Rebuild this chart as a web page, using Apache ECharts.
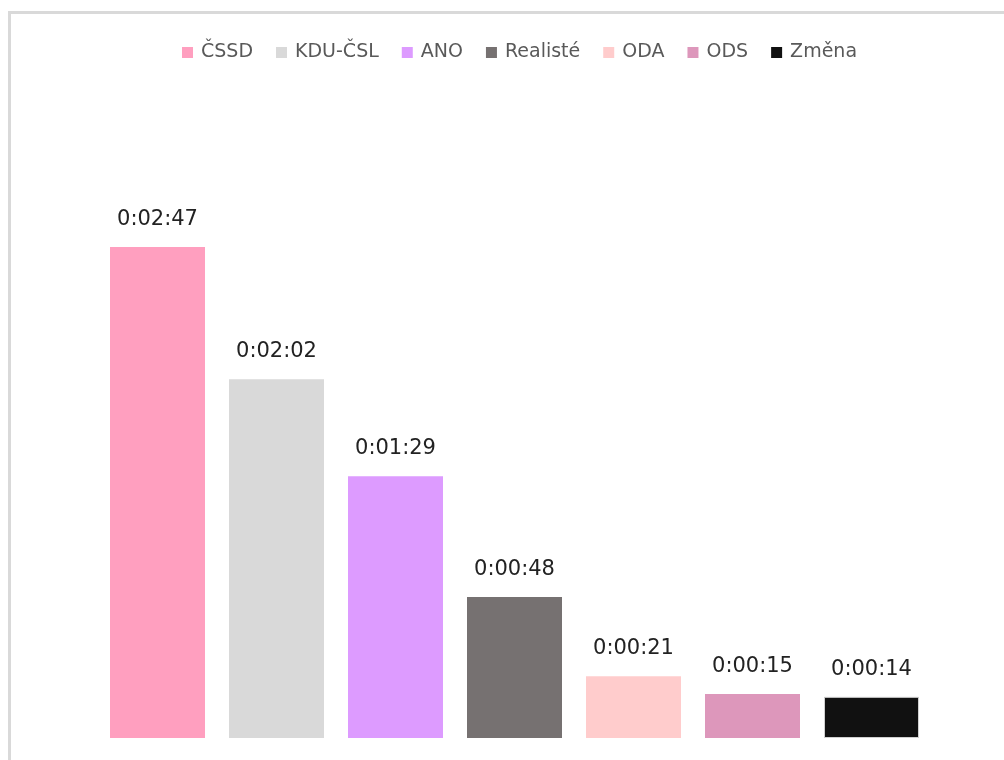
<!DOCTYPE html>
<html>
<head>
<meta charset="utf-8">
<script src="https://cdn.jsdelivr.net/npm/echarts@6/dist/echarts.min.js"></script>
<style>
  html, body { margin: 0; padding: 0; background: #fff; }
  #wrap { position: relative; width: 1004px; height: 760px; overflow: hidden; }
  #frame { position: absolute; left: 8px; top: 11px; width: 1010px; height: 760px;
           border-top: 3px solid #d9d9d9; border-left: 3px solid #d9d9d9; }
  #chart { position: absolute; left: 0; top: 0; width: 1004px; height: 760px; }
</style>
</head>
<body>
<div id="wrap">
  <div id="frame"></div>
  <div id="chart"></div>
</div>
<script>
// parties, speaking time in seconds, bar colours
const parties = ['ČSSD', 'KDU-ČSL', 'ANO', 'Realisté', 'ODA', 'ODS', 'Změna']
const seconds = [167, 122, 89, 48, 21, 15, 14]
const colors = ['#ff9fbf', '#d9d9d9', '#dd9bff', '#767171', '#ffcccc', '#dd97bb', '#111111']

const fmt = (s) => {
  const h = Math.floor(s / 3600)
  const m = Math.floor((s % 3600) / 60)
  const sec = s % 60
  return h + ':' + String(m).padStart(2, '0') + ':' + String(sec).padStart(2, '0')
}

const chart = echarts.init(document.getElementById('chart'))

// one series per party so the legend lists each of them
const series = parties.map((name, i) => ({
  name: name,
  type: 'bar',
  stack: 'all',
  barWidth: 95,
  data: seconds.map((v, j) => (j === i ? v : '-')),
  itemStyle: { color: colors[i], borderColor: i === 6 ? '#d0d0d0' : colors[i], borderWidth: i === 6 ? 1 : 0 },
  label: {
    show: true,
    position: 'top',
    distance: 17,
    formatter: (p) => fmt(p.value),
    color: '#222',
    fontSize: 21,
    fontFamily: 'DejaVu Sans'
  }
}))

chart.setOption({
  animation: false,
  legend: {
    top: 38,
    left: 177,
    itemWidth: 11,
    itemHeight: 11,
    itemGap: 23,
    icon: 'rect',
    data: parties,
    itemStyle: { borderWidth: 0 },
    textStyle: { color: '#595959', fontSize: 19, fontFamily: 'DejaVu Sans', padding: [0, 0, 0, 3] }
  },
  grid: { left: 98, right: 73, top: 150, bottom: 22 },
  xAxis: {
    type: 'category',
    data: parties,
    axisLine: { show: false },
    axisTick: { show: false },
    axisLabel: { show: false }
  },
  yAxis: {
    type: 'value',
    min: 0,
    max: 200,
    show: false,
    splitLine: { show: false }
  },
  series: series
})
</script>
</body>
</html>
